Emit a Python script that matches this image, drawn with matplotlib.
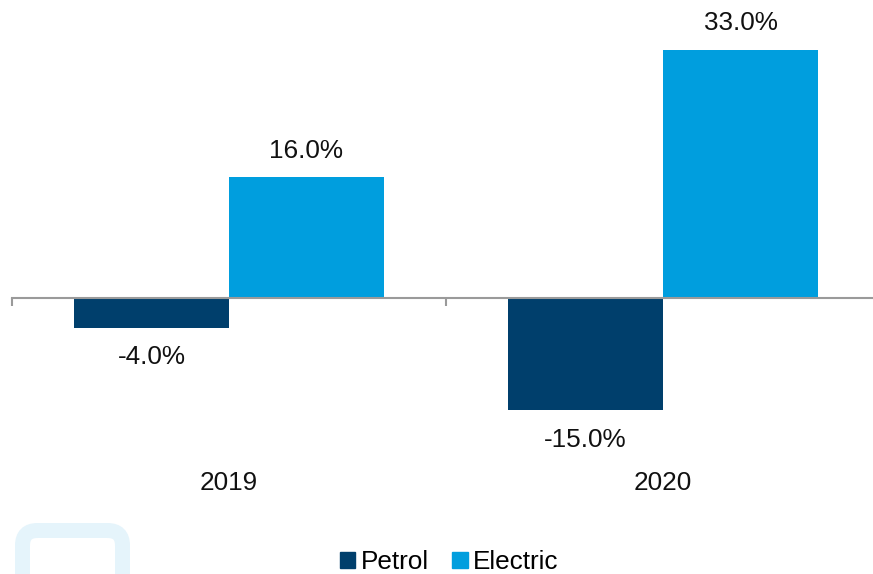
import matplotlib
matplotlib.use("Agg")
import matplotlib.pyplot as plt
from matplotlib.patches import FancyBboxPatch, Patch
import numpy as np

plt.rcParams['font.family'] = ['Liberation Sans', 'DejaVu Sans']

years = ["2019", "2020"]
petrol = [-4.0, -15.0]
electric = [16.0, 33.0]
series_names = ["Petrol", "Electric"]
colors = ["#003f6c", "#009ede"]

W, H = 873, 574
fig = plt.figure(figsize=(W / 100, H / 100), dpi=100)

# axes in pixels: x 12..880, y top 12 .. bottom 448 (ylim -20..38)
left, right = 12, 880
top, bottom = 12, 448
ax = fig.add_axes([left / W, (H - bottom) / H, (right - left) / W, (bottom - top) / H])
ax.set_xlim(-0.5, 1.5)
ax.set_ylim(-20, 38)

x = np.arange(len(years))
bw = 0.357
b1 = ax.bar(x - bw / 2, petrol, bw, color=colors[0])
b2 = ax.bar(x + bw / 2, electric, bw, color=colors[1])

fs = 18.8
for bars, vals in ((b1, petrol), (b2, electric)):
    for rect, v in zip(bars, vals):
        cx = rect.get_x() + rect.get_width() / 2
        off = 19 if v >= 0 else -21
        ax.annotate(f"{v:.1f}%", (cx, v), xytext=(0, off), textcoords="offset points",
                    ha="center", va="center", fontsize=fs, color="#111111")

for xi, yr in zip(x, years):
    ax.text(xi, -24.6, yr, ha="center", va="center", fontsize=fs, color="#111111")

for s in ("top", "right", "left"):
    ax.spines[s].set_visible(False)
ax.spines["bottom"].set_position(("data", 0))
ax.spines["bottom"].set_color("#9a9a9a")
ax.spines["bottom"].set_linewidth(1.5)
ax.set_yticks([])
ax.set_xticks([])
ax.set_xticks([-0.5, 0.5, 1.5], minor=True)
ax.tick_params(axis="x", which="minor", length=6, width=1.5, color="#9a9a9a", direction="out")

handles = [Patch(color=c) for c in colors]
fig.legend(handles, series_names, loc="center", bbox_to_anchor=(449 / W, 1 - 562 / H),
           ncol=2, frameon=False, fontsize=fs, handlelength=0.6, handleheight=0.6,
           handletextpad=0.2, columnspacing=0.9)

# faint logo watermark in the corner
logo = FancyBboxPatch((0.225, -0.5), 1.0, 0.935, boxstyle="round,pad=0,rounding_size=0.15",
                      transform=fig.dpi_scale_trans, fill=False, edgecolor="#e5f4fb",
                      linewidth=10.8, zorder=0)
fig.patches.append(logo)

fig.savefig("out.png", dpi=100)
